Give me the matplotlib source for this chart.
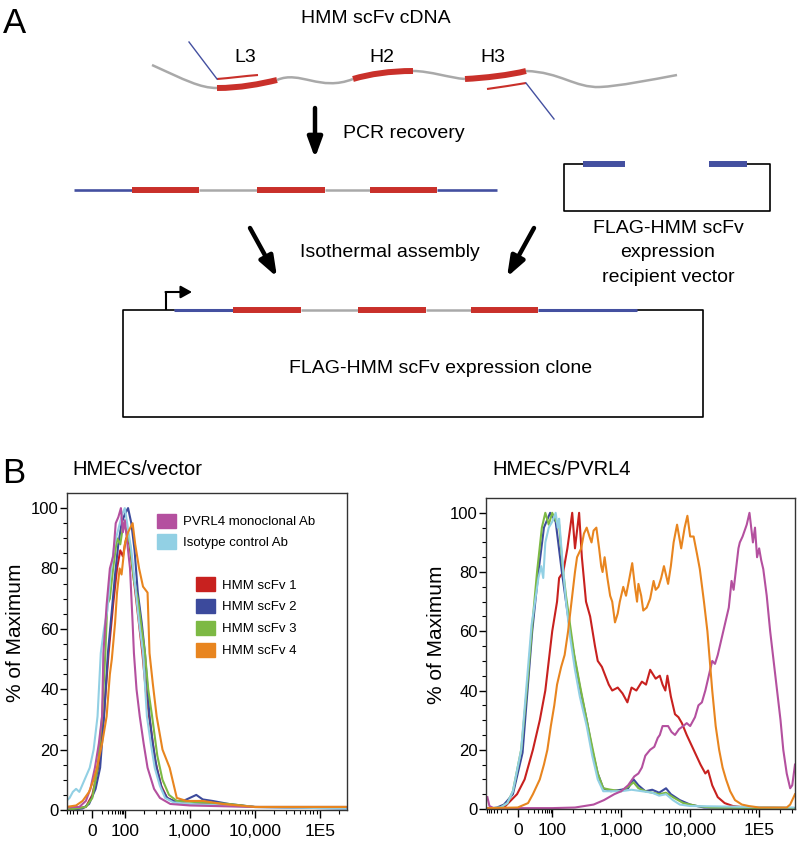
import numpy as np
import matplotlib
matplotlib.use('Agg')
import matplotlib.pyplot as plt
from matplotlib.path import Path
from matplotlib.patches import PathPatch, Patch

plt.rcParams['font.family'] = ['Liberation Sans', 'DejaVu Sans']

# ---------------------------------------------------------------
# flow data, x in display decades (0 -> 1.5, 100 -> 2, 1,000 -> 3 ...), y in % of max
tick_pos = [1.5, 2, 3, 4, 5]
tick_lab = ['0', '100', '1,000', '10,000', '1E5']

# HMECs/vector
vec_mab_x = [1.12, 1.3, 1.4, 1.47, 1.54, 1.6, 1.65, 1.67, 1.72, 1.77, 1.82, 1.86, 1.9, 1.94, 1.97, 2.0, 2.04, 2.08, 2.12, 2.14, 2.18, 2.23, 2.29, 2.35, 2.45, 2.54, 2.7, 3.0, 4.0, 5.4]
vec_mab_y = [1, 1, 3, 7, 14, 22, 31, 52, 68, 80, 84, 95, 97, 100, 92, 96, 88, 80, 62, 52, 40, 31, 22, 14, 7, 4, 2, 1.5, 1, 1]
vec_iso_x = [1.1, 1.15, 1.2, 1.25, 1.3, 1.38, 1.46, 1.52, 1.58, 1.63, 1.68, 1.73, 1.78, 1.84, 1.9, 1.96, 2.0, 2.05, 2.1, 2.16, 2.22, 2.28, 2.34, 2.4, 2.46, 2.54, 2.62, 2.75, 3.0, 3.5, 4.0, 5.4]
vec_iso_y = [3, 4, 6, 7, 6, 10, 14, 20, 31, 52, 60, 66, 78, 88, 93, 98, 100, 93, 86, 74, 62, 52, 31, 22, 14, 8, 4, 2.5, 2, 1.5, 1, 0.5]
vec_s1_x = [1.1, 1.4, 1.5, 1.6, 1.68, 1.75, 1.82, 1.88, 1.93, 1.97, 2.02, 2.07, 2.13, 2.2, 2.27, 2.33, 2.4, 2.47, 2.56, 2.65, 2.8, 3.0, 3.5, 4.0, 5.4]
vec_s1_y = [0, 1, 5, 15, 32, 52, 68, 80, 86, 84, 90, 88, 78, 65, 52, 38, 27, 16, 8, 4, 2.5, 2, 2, 1, 1]
vec_s2_x = [1.1, 1.35, 1.45, 1.55, 1.62, 1.68, 1.74, 1.8, 1.85, 1.9, 1.95, 2.0, 2.05, 2.1, 2.15, 2.2, 2.26, 2.31, 2.38, 2.43, 2.49, 2.57, 2.65, 2.75, 2.9, 3.0, 3.1, 3.2, 3.35, 3.6, 4.0, 5.4]
vec_s2_y = [0, 0.5, 2, 7, 14, 31, 52, 66, 78, 88, 95, 98, 100, 95, 86, 72, 62, 52, 31, 22, 14, 7, 4, 3, 3, 4, 5, 3.5, 3, 2, 1, 0.5]
vec_s3_x = [1.1, 1.4, 1.5, 1.58, 1.65, 1.7, 1.73, 1.77, 1.82, 1.88, 1.93, 1.98, 2.03, 2.08, 2.14, 2.2, 2.26, 2.31, 2.36, 2.42, 2.5, 2.58, 2.68, 2.8, 3.2, 3.6, 4.0, 5.4]
vec_s3_y = [0, 1, 4, 14, 31, 52, 68, 70, 80, 90, 88, 95, 92, 88, 76, 70, 60, 52, 40, 31, 18, 10, 5, 3, 2.5, 2, 1, 1]
vec_s4_x = [1.1, 1.25, 1.35, 1.45, 1.52, 1.57, 1.65, 1.72, 1.77, 1.8, 1.85, 1.88, 1.92, 1.95, 2.0, 2.05, 2.12, 2.16, 2.22, 2.28, 2.35, 2.38, 2.43, 2.49, 2.58, 2.69, 2.8, 2.95, 3.2, 3.5, 4.0, 5.4]
vec_s4_y = [1, 1.5, 3, 6, 10, 14, 22, 31, 45, 50, 62, 72, 80, 78, 88, 92, 95, 88, 80, 74, 72, 52, 42, 31, 20, 14, 4, 3, 3, 2, 1, 1]

# HMECs/PVRL4
pv_mab_x = [1.06, 1.09, 1.15, 2.0, 2.33, 2.6, 2.75, 2.9, 3.0, 3.1, 3.19, 3.25, 3.3, 3.35, 3.42, 3.48, 3.53, 3.56, 3.6, 3.68, 3.73, 3.78, 3.84, 3.9, 3.95, 4.0, 4.07, 4.12, 4.17, 4.22, 4.27, 4.32, 4.36, 4.4, 4.44, 4.48, 4.52, 4.56, 4.6, 4.63, 4.66, 4.7, 4.72, 4.76, 4.79, 4.82, 4.86, 4.89, 4.91, 4.94, 4.97, 5.0, 5.03, 5.06, 5.11, 5.16, 5.21, 5.26, 5.31, 5.35, 5.4, 5.45, 5.48, 5.52]
pv_mab_y = [4, 1, 0.3, 0.3, 0.5, 1.5, 3, 5, 6, 8, 11, 12, 14, 18, 20, 21, 24, 25, 28, 28, 26, 25, 27, 28, 29, 28, 31, 35, 36, 40, 45, 50, 49, 52, 56, 60, 64, 68, 77, 74, 80, 88, 90, 92, 94, 96, 100, 94, 90, 95, 85, 88, 84, 81, 72, 60, 50, 40, 30, 20, 12, 7, 8, 15]
pv_iso_x = [1.06, 1.25, 1.35, 1.43, 1.55, 1.65, 1.7, 1.75, 1.8, 1.84, 1.87, 1.9, 1.95, 2.0, 2.05, 2.08, 2.1, 2.14, 2.2, 2.26, 2.33, 2.4, 2.5, 2.58, 2.66, 2.74, 2.85, 3.0, 3.15, 3.3, 3.45, 3.55, 3.65, 3.75, 3.85, 4.0, 5.5]
pv_iso_y = [0.3, 0.5, 2, 6, 20, 48, 62, 70, 78, 82, 78, 90, 95, 97, 100, 95, 98, 86, 70, 58, 47, 38, 28, 18, 10, 6, 6, 6, 6.5, 6, 5.5, 4.5, 5, 3, 1.5, 1, 0.5]
pv_s1_x = [1.06, 1.3, 1.49, 1.6, 1.72, 1.82, 1.9, 1.95, 2.0, 2.07, 2.1, 2.16, 2.22, 2.29, 2.33, 2.39, 2.43, 2.49, 2.55, 2.62, 2.66, 2.72, 2.77, 2.82, 2.87, 2.95, 3.02, 3.09, 3.15, 3.22, 3.3, 3.36, 3.42, 3.5, 3.56, 3.6, 3.64, 3.67, 3.72, 3.78, 3.83, 3.88, 3.95, 4.05, 4.15, 4.22, 4.26, 4.32, 4.4, 4.5, 4.62, 4.8, 5.5]
pv_s1_y = [0, 0.5, 5, 10, 20, 30, 40, 50, 60, 70, 78, 80, 88, 100, 88, 100, 85, 70, 65, 55, 50, 48, 45, 42, 40, 41, 39, 36, 41, 40, 43, 42, 47, 44, 45, 42, 40, 45, 38, 32, 31, 29, 25, 20, 15, 12, 13, 8, 4, 2, 1, 0.5, 0.3]
pv_s2_x = [1.06, 1.2, 1.3, 1.43, 1.57, 1.71, 1.8, 1.88, 1.97, 2.05, 2.14, 2.2, 2.26, 2.33, 2.41, 2.5, 2.58, 2.66, 2.74, 2.85, 3.0, 3.1, 3.18, 3.25, 3.35, 3.45, 3.55, 3.65, 3.72, 3.85, 4.0, 4.2, 5.5]
pv_s2_y = [0, 0.5, 1.5, 5, 19, 60, 80, 95, 100, 97, 80, 70, 60, 50, 40, 30, 20, 12, 7, 6, 6.5, 7, 10, 8, 6, 6.5, 5.5, 7, 5, 3, 1.5, 0.5, 0.3]
pv_s3_x = [1.06, 1.25, 1.35, 1.43, 1.55, 1.65, 1.71, 1.78, 1.85, 1.9, 1.95, 2.0, 2.06, 2.1, 2.15, 2.2, 2.26, 2.32, 2.4, 2.5, 2.58, 2.66, 2.74, 2.85, 3.0, 3.1, 3.18, 3.25, 3.35, 3.45, 3.55, 3.65, 3.75, 3.9, 4.1, 4.3, 5.5]
pv_s3_y = [0, 0.5, 2, 6, 20, 45, 62, 80, 95, 100, 96, 100, 97, 96, 82, 72, 62, 52, 42, 30, 21, 12, 7, 6.5, 6, 7.5, 9, 7, 6, 5.5, 5, 5.5, 4, 2, 1, 0.5, 0.3]
pv_s4_x = [1.06, 1.5, 1.65, 1.72, 1.82, 1.88, 1.93, 1.98, 2.03, 2.07, 2.09, 2.13, 2.18, 2.23, 2.29, 2.33, 2.36, 2.42, 2.46, 2.5, 2.54, 2.57, 2.6, 2.64, 2.68, 2.71, 2.73, 2.76, 2.8, 2.84, 2.87, 2.91, 2.95, 2.98, 3.03, 3.07, 3.12, 3.16, 3.2, 3.23, 3.25, 3.29, 3.32, 3.37, 3.42, 3.47, 3.5, 3.54, 3.58, 3.62, 3.65, 3.68, 3.72, 3.76, 3.81, 3.84, 3.87, 3.92, 3.96, 4.0, 4.05, 4.1, 4.14, 4.2, 4.25, 4.32, 4.37, 4.42, 4.47, 4.52, 4.58, 4.65, 4.75, 4.85, 5.0, 5.4, 5.45, 5.52]
pv_s4_y = [0.3, 0.5, 2, 5, 10, 15, 20, 28, 35, 42, 44, 48, 52, 60, 72, 80, 85, 88, 93, 95, 92, 90, 94, 95, 88, 82, 80, 85, 78, 72, 70, 63, 66, 70, 75, 72, 78, 83, 75, 70, 76, 72, 67, 68, 71, 77, 74, 75, 78, 82, 79, 76, 82, 90, 96, 92, 88, 95, 99, 92, 92, 86, 81, 70, 60, 40, 28, 20, 14, 10, 6, 3, 1.5, 1, 0.5, 0.5, 1.5, 5]

labels_mab = ['PVRL4 monoclonal Ab', 'Isotype control Ab']
labels_scfv = ['HMM scFv 1', 'HMM scFv 2', 'HMM scFv 3', 'HMM scFv 4']

c_mab, c_iso = '#b4509f', '#92d0e4'
c_s1, c_s2, c_s3, c_s4 = '#c8211f', '#3c4a9c', '#7db944', '#e8851f'

RED, BLUE, GRAY = '#c9302a', '#4450a0', '#a9a9a9'

fig = plt.figure(figsize=(7.99, 8.41), dpi=100)

# ===============================================================
# A : schematic, drawn in pixel coordinates
ax0 = fig.add_axes([0, 0, 1, 1])
ax0.set_xlim(0, 799)
ax0.set_ylim(841, 0)
ax0.axis('off')


def curve(pts, color, lw):
    codes = [Path.MOVETO] + [Path.CURVE4] * (len(pts) - 1)
    ax0.add_patch(PathPatch(Path(pts, codes), fc='none', ec=color, lw=lw, capstyle='butt'))


def seg(x0, x1, y, color, lw):
    ax0.plot([x0, x1], [y, y], color=color, lw=lw, solid_capstyle='butt')


# cDNA strand
curve([(152, 65), (185, 80), (200, 88), (217, 88)], GRAY, 1.8)
curve([(217, 88), (240, 88), (260, 84), (277, 80)], RED, 4.3)
curve([(277, 80), (300, 70), (320, 92), (353, 79)], GRAY, 1.8)
curve([(353, 79), (370, 74), (390, 71), (413, 71)], RED, 4.3)
curve([(413, 71), (430, 71), (450, 78), (465, 79)], GRAY, 1.8)
curve([(465, 79), (485, 78), (510, 75), (526, 71)], RED, 4.3)
curve([(526, 71), (560, 72), (575, 88), (600, 87)], GRAY, 1.8)
curve([(600, 87), (620, 86), (650, 80), (677, 75)], GRAY, 1.8)
# primers
ax0.plot([189, 217], [42, 79], color=BLUE, lw=1.0)
curve([(217, 79), (230, 78), (245, 76), (258, 75)], RED, 1.5)
curve([(487, 89), (500, 87), (515, 85), (526, 83)], RED, 1.5)
ax0.plot([526, 554], [83, 119], color=BLUE, lw=1.0)

ax0.text(3, 23, 'A', fontsize=25, ha='left', va='center')
ax0.text(376, 18, 'HMM scFv cDNA', fontsize=14, ha='center', va='center')
ax0.text(245, 57, 'L3', fontsize=14, ha='center', va='center')
ax0.text(382, 57, 'H2', fontsize=14, ha='center', va='center')
ax0.text(493, 57, 'H3', fontsize=14, ha='center', va='center')

arrow = dict(arrowstyle='-|>,head_length=0.6,head_width=0.22', lw=3.2, color='black',
             shrinkA=0, shrinkB=0, mutation_scale=20)
ax0.annotate('', xy=(315, 158), xytext=(315, 108), arrowprops=arrow)
ax0.text(343, 133, 'PCR recovery', fontsize=14, ha='left', va='center')

# PCR product
y = 190
seg(74, 132, y, BLUE, 1.9)
seg(132, 199, y, RED, 4.3)
seg(199, 257, y, GRAY, 1.8)
seg(257, 325, y, RED, 4.3)
seg(325, 370, y, GRAY, 1.8)
seg(370, 437, y, RED, 4.3)
seg(437, 497, y, BLUE, 1.9)

# recipient vector
ax0.plot([583, 564, 564, 770, 770, 747], [164, 164, 211, 211, 164, 164], color='black', lw=1.2)
seg(583, 625, 164, BLUE, 4.3)
seg(709, 747, 164, BLUE, 4.3)
ax0.text(668, 228, 'FLAG-HMM scFv', fontsize=14, ha='center', va='center')
ax0.text(668, 252, 'expression', fontsize=14, ha='center', va='center')
ax0.text(668, 277, 'recipient vector', fontsize=14, ha='center', va='center')

ax0.annotate('', xy=(277, 277), xytext=(250, 228), arrowprops=arrow)
ax0.annotate('', xy=(507, 277), xytext=(534, 228), arrowprops=arrow)
ax0.text(300, 252, 'Isothermal assembly', fontsize=14, ha='left', va='center')

# expression clone
ax0.plot([174, 123, 123, 703, 703, 637], [310, 310, 417, 417, 310, 310], color='black', lw=1.2)
y = 310
seg(174, 233, y, BLUE, 2.2)
seg(233, 301, y, RED, 4.3)
seg(301, 358, y, GRAY, 1.8)
seg(358, 426, y, RED, 4.3)
seg(426, 471, y, GRAY, 1.8)
seg(471, 538, y, RED, 4.3)
seg(538, 637, y, BLUE, 2.2)
ax0.plot([166, 166], [310, 292], color='black', lw=1.5, solid_capstyle='butt')
ax0.annotate('', xy=(192, 292), xytext=(165.5, 292),
             arrowprops=dict(arrowstyle='-|>,head_length=0.45,head_width=0.25', lw=1.5,
                             color='black', shrinkA=0, shrinkB=0, mutation_scale=15))
ax0.text(441, 368, 'FLAG-HMM scFv expression clone', fontsize=14, ha='center', va='center')

# ===============================================================
# B : flow histograms
ax0.text(2, 473, 'B', fontsize=25, ha='left', va='center')
ax0.text(72, 469, 'HMECs/vector', fontsize=14.5, ha='left', va='center')
ax0.text(492, 469, 'HMECs/PVRL4', fontsize=14.5, ha='left', va='center')

minor = [2 + np.log10(k) * 0.5 - 0.5 for k in range(2, 10)]
minor += [3 - m for m in minor]
minor += [d - 1 + np.log10(k) for d in [3, 4, 5, 6] for k in range(2, 10)]


def style(ax, xmin, xmax, ylab_x):
    ax.set_xlim(xmin, xmax)
    ax.set_ylim(0, 105)
    ax.set_xticks(tick_pos)
    ax.set_xticklabels(tick_lab, fontsize=12.5)
    ax.set_xticks([m for m in minor if xmin < m < xmax], minor=True)
    ax.set_yticks([0, 20, 40, 60, 80, 100])
    ax.set_yticks(np.arange(0, 105, 5), minor=True)
    ax.tick_params(axis='y', labelsize=12, length=5, width=1, pad=1)
    ax.tick_params(axis='x', length=6, width=1, pad=4)
    ax.tick_params(which='minor', length=3, width=0.8)
    for s in ax.spines.values():
        s.set_color('#333333')
        s.set_linewidth(1.0)
    ax.set_ylabel('% of Maximum', fontsize=15)
    ax.yaxis.set_label_coords(ylab_x, 0.56)


axL = fig.add_axes([67 / 799, 31 / 841, 280 / 799, 317 / 841])
axL.plot(vec_s1_x, vec_s1_y, color=c_s1, lw=1.5)
axL.plot(vec_s2_x, vec_s2_y, color=c_s2, lw=1.5)
axL.plot(vec_s3_x, vec_s3_y, color=c_s3, lw=1.5)
axL.plot(vec_iso_x, vec_iso_y, color=c_iso, lw=1.5)
axL.plot(vec_mab_x, vec_mab_y, color=c_mab, lw=1.5)
axL.plot(vec_s4_x, vec_s4_y, color=c_s4, lw=1.5)
style(axL, 1.11, 5.42, -0.15)

leg_kw = dict(frameon=False, fontsize=9.5, handlelength=1.45, handleheight=1.3,
              handletextpad=0.55, borderpad=0, borderaxespad=0, loc='upper left')
leg1 = axL.legend([Patch(color=c) for c in [c_mab, c_iso]], labels_mab,
                  bbox_to_anchor=(0.321, 0.935), labelspacing=0.45, **leg_kw)
axL.add_artist(leg1)
axL.legend([Patch(color=c) for c in [c_s1, c_s2, c_s3, c_s4]], labels_scfv,
           bbox_to_anchor=(0.461, 0.735), labelspacing=0.55, **leg_kw)

axR = fig.add_axes([486 / 799, 32 / 841, 309 / 799, 311 / 841])
axR.plot(pv_s1_x, pv_s1_y, color=c_s1, lw=1.5)
axR.plot(pv_s2_x, pv_s2_y, color=c_s2, lw=1.5)
axR.plot(pv_s3_x, pv_s3_y, color=c_s3, lw=1.5)
axR.plot(pv_iso_x, pv_iso_y, color=c_iso, lw=1.5)
axR.plot(pv_mab_x, pv_mab_y, color=c_mab, lw=1.5)
axR.plot(pv_s4_x, pv_s4_y, color=c_s4, lw=1.5)
style(axR, 1.04, 5.52, -0.13)

plt.savefig('out.png', dpi=100)
